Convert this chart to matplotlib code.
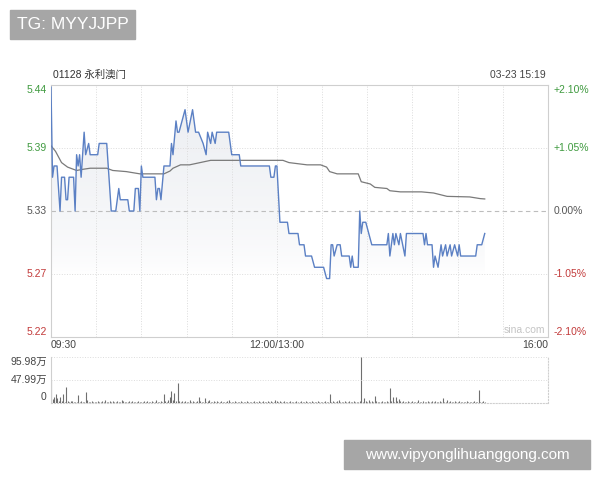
import numpy as np
import matplotlib
matplotlib.use("Agg")
import matplotlib.pyplot as plt
from matplotlib.patches import Rectangle
from matplotlib.colors import LinearSegmentedColormap

plt.rcParams['font.family'] = ['Liberation Sans', 'Noto Sans CJK SC', 'DejaVu Sans']

# ---- data (minutes since 09:30, lunch break removed: 150 = 12:00/13:00) ----
prev_close = 5.33
price_t = [0, 1, 2, 4, 6, 7, 9, 10, 11, 12, 15, 16, 17, 18, 19, 20, 22, 23, 25, 26,
           31, 32, 37, 38, 39, 40, 43, 45, 46, 51, 52, 55, 56, 58, 59, 60, 61, 69, 70, 71,
           72, 73, 75, 79, 80, 81, 83, 84, 85, 89, 91, 94, 96, 98, 101, 103, 104, 106, 107, 109,
           110, 118, 120, 125, 126, 145, 146, 148, 149, 150, 152, 157, 158, 164, 165, 168, 169, 173, 175, 181,
           183, 185, 186, 187, 188, 190, 192, 193, 198, 199, 200, 201, 204, 205, 206, 207, 209, 211, 213, 223,
           224, 225, 226, 227, 228, 229, 231, 232, 235, 236, 247, 248, 249, 250, 253, 254, 255, 257, 258, 259,
           260, 262, 263, 265, 266, 268, 270, 271, 272, 282, 283, 286, 288]
price = [5.44, 5.36, 5.37, 5.37, 5.33, 5.36, 5.36, 5.34, 5.34, 5.36, 5.36, 5.33, 5.38, 5.37, 5.38, 5.36, 5.40, 5.38, 5.39, 5.38,
         5.38, 5.39, 5.39, 5.37, 5.35, 5.33, 5.33, 5.35, 5.34, 5.34, 5.33, 5.33, 5.35, 5.35, 5.33, 5.37, 5.36, 5.36, 5.34, 5.35,
         5.35, 5.34, 5.37, 5.37, 5.39, 5.38, 5.41, 5.40, 5.40, 5.42, 5.40, 5.42, 5.40, 5.40, 5.39, 5.38, 5.40, 5.39, 5.40, 5.39,
         5.40, 5.40, 5.38, 5.38, 5.37, 5.37, 5.36, 5.36, 5.37, 5.37, 5.32, 5.32, 5.31, 5.31, 5.30, 5.30, 5.29, 5.29, 5.28, 5.28,
         5.27, 5.27, 5.30, 5.30, 5.29, 5.30, 5.30, 5.29, 5.29, 5.28, 5.29, 5.28, 5.28, 5.33, 5.31, 5.32, 5.32, 5.31, 5.30, 5.30,
         5.31, 5.29, 5.30, 5.31, 5.30, 5.31, 5.30, 5.31, 5.29, 5.31, 5.31, 5.30, 5.31, 5.30, 5.30, 5.28, 5.29, 5.28, 5.29, 5.30,
         5.29, 5.30, 5.29, 5.30, 5.29, 5.30, 5.29, 5.30, 5.29, 5.29, 5.30, 5.30, 5.31]

avg_t = [0, 3, 5, 7, 11, 17, 21, 26, 37, 41, 50, 59, 75, 79, 81, 86, 92, 99, 106, 125,
         154, 158, 170, 179, 183, 185, 190, 204, 206, 212, 215, 223, 225, 232, 246, 254, 263, 278, 285, 288]
avg_price = [5.388, 5.383, 5.378, 5.373, 5.369, 5.366, 5.367, 5.368, 5.368, 5.366,
             5.365, 5.363, 5.363, 5.3655, 5.368, 5.371, 5.371, 5.373, 5.375, 5.375,
             5.375, 5.373, 5.371, 5.371, 5.369, 5.365, 5.363, 5.363, 5.356, 5.354,
             5.351, 5.350, 5.348, 5.347, 5.347, 5.346, 5.343, 5.3425, 5.341, 5.3407]

# volume per minute, in 万
volume = [47, 8, 12, 18, 9, 4, 11, 3, 17, 2, 33, 3, 2, 4, 3, 1, 2, 2, 16, 2,
          3, 1, 2, 22, 5, 2, 1, 3, 2, 1, 2, 4, 2, 1, 3, 2, 5, 2, 1, 3,
          2, 4, 1, 2, 3, 1, 2, 5, 3, 2, 1, 2, 3, 1, 4, 2, 1, 2, 3, 1,
          2, 1, 3, 2, 4, 1, 2, 3, 1, 2, 5, 1, 2, 3, 1, 17, 3, 2, 5, 12,
          24, 6, 19, 4, 40, 3, 2, 4, 1, 3, 2, 2, 5, 1, 3, 2, 1, 4, 11, 3,
          2, 1, 9, 2, 3, 6, 2, 1, 4, 2, 3, 1, 2, 3, 1, 2, 2, 3, 6, 2,
          1, 2, 3, 1, 2, 1, 3, 2, 1, 2, 3, 1, 2, 1, 2, 3, 1, 2, 4, 1,
          2, 3, 1, 2, 4, 2, 3, 1, 2, 5, 4, 2, 3, 1, 2, 3, 1, 2, 1, 3,
          2, 1, 2, 3, 1, 2, 4, 1, 2, 3, 1, 2, 1, 3, 2, 1, 2, 3, 1, 2,
          2, 1, 4, 2, 1, 17, 2, 3, 1, 2, 3, 6, 2, 1, 2, 3, 1, 2, 4, 2,
          1, 3, 2, 1, 2, 3, 96, 2, 9, 3, 2, 6, 1, 3, 2, 14, 3, 2, 1, 2,
          3, 2, 1, 3, 2, 30, 3, 11, 2, 12, 3, 8, 4, 2, 3, 1, 2, 4, 2, 1,
          3, 2, 1, 2, 5, 1, 2, 3, 1, 2, 4, 2, 1, 3, 2, 4, 1, 2, 3, 1,
          9, 2, 1, 6, 2, 3, 1, 2, 4, 1, 2, 3, 1, 2, 1, 2, 3, 1, 2, 1,
          2, 3, 1, 2, 26, 2, 1, 3, 2]

pct_levels = [0.021, 0.0105, 0.0, -0.0105, -0.021]
price_labels = ['5.44', '5.39', '5.33', '5.27', '5.22']
pct_labels = ['+2.10%', '+1.05%', '0.00%', '-1.05%', '-2.10%']
vol_ticks = [0, 47.99, 95.98]
vol_labels = ['0', '47.99万', '95.98万']

green, red, grey = '#3f9a3f', '#c23a3a', '#555555'
grid_c = '#dcdcdc'

fig = plt.figure(figsize=(6, 4.8), dpi=100)

# ---- price panel ----
ax = fig.add_axes([51 / 600, 1 - 337 / 480, 497 / 600, 252 / 480])
ymin = prev_close * (1 - 0.021)
ymax = prev_close * (1 + 0.021)

# soft grey shading under the price line, fading out towards the bottom
poly = ax.fill_between(price_t, price, ymin, color='none', lw=0)
ys = np.linspace(ymax, ymin, 256)
shade = np.clip((ys - 5.275) / (ymax - 5.275), 0, 1) ** 0.6
cmap = LinearSegmentedColormap.from_list('g', ['#ffffff', '#eceef2'])
img = ax.imshow(shade.reshape(-1, 1), extent=[0, 330, ymin, ymax], aspect='auto',
                cmap=cmap, vmin=0, vmax=1, origin='upper', zorder=1)
img.set_clip_path(poly.get_paths()[0], transform=ax.transData)

ax.plot(avg_t, avg_price, color='#7a7a7a', lw=0.9, zorder=3)
ax.plot(price_t, price, color='#5b80c4', lw=1.0, zorder=4)

ax.set_xlim(0, 330)
ax.set_ylim(ymin, ymax)
levels = [prev_close * (1 + p) for p in pct_levels]
for lv, p in zip(levels, pct_levels):
    if p == 0:
        ax.axhline(lv, color='#bdbdbd', lw=0.8, dashes=(4, 3), zorder=2)
    elif abs(p) < 0.02:
        ax.axhline(lv, color=grid_c, lw=0.7, ls=':', zorder=2)
for m in range(30, 330, 30):
    ax.axvline(m, color=grid_c, lw=0.7, ls=':', zorder=2)

for s in ax.spines.values():
    s.set_color('#cfcfcf')
    s.set_linewidth(0.8)

ax.set_yticks(levels)
ax.set_yticklabels(price_labels)
ax.tick_params(axis='y', length=0, pad=3, labelsize=7.5)
cols = [green, green, grey, red, red]
vas = ['top', 'center', 'center', 'center', 'bottom']
for lab, c, va in zip(ax.get_yticklabels(), cols, vas):
    lab.set_color(c)
    lab.set_verticalalignment(va)

ax.set_xticks([0, 150, 330])
ax.set_xticklabels(['09:30', '12:00/13:00', '16:00'])
ax.tick_params(axis='x', length=0, pad=2, labelsize=7.5, labelcolor='#444444')
xl = ax.get_xticklabels()
xl[0].set_horizontalalignment('left')
xl[2].set_horizontalalignment('right')

ax2 = ax.twinx()
ax2.set_ylim(ymin, ymax)
ax2.set_yticks(levels)
ax2.set_yticklabels(pct_labels)
ax2.tick_params(axis='y', length=0, pad=4, labelsize=7.5)
for lab, c, va in zip(ax2.get_yticklabels(), cols, vas):
    lab.set_color(c)
    lab.set_verticalalignment(va)
for s in ax2.spines.values():
    s.set_visible(False)

ax.text(0.995, 0.008, 'sina.com', transform=ax.transAxes, ha='right', va='bottom',
        fontsize=7.5, color='#c4c4c4')

fig.text(53 / 600, 1 - 75 / 480, '01128 永利澳门', fontsize=7.5, color='#333333', va='center')
fig.text(546 / 600, 1 - 75 / 480, '03-23 15:19', fontsize=7.5, color='#444444',
         va='center', ha='right')

# ---- volume panel ----
axv = fig.add_axes([51 / 600, 1 - 402.5 / 480, 497 / 600, 46 / 480])
axv.vlines(np.arange(len(volume)), 0, volume, color='#6f6f6f', lw=0.8)
axv.set_xlim(0, 330)
axv.set_ylim(0, 95.98)
axv.set_xticks([])
axv.set_yticks(vol_ticks)
axv.set_yticklabels(vol_labels)
axv.tick_params(axis='y', length=0, pad=3, labelsize=7.5, labelcolor='#444444')
for lab, va in zip(axv.get_yticklabels(), ['bottom', 'center', 'top']):
    lab.set_verticalalignment(va)
axv.axhline(47.99, color=grid_c, lw=0.7, ls=':')
axv.axhline(95.98, color=grid_c, lw=0.7, ls=':')
axv.spines['top'].set_visible(False)
axv.spines['left'].set_color('#cfcfcf')
axv.spines['left'].set_linewidth(0.8)
for k in ['bottom', 'right']:
    axv.spines[k].set_color('#cfcfcf')
    axv.spines[k].set_linestyle(':')
    axv.spines[k].set_linewidth(0.8)

# ---- watermark boxes ----
fig.patches.append(Rectangle((10 / 600, 1 - 39 / 480), 125 / 600, 29 / 480,
                             transform=fig.transFigure, color='#a6a6a6', zorder=5))
fig.text(72.5 / 600, 1 - 24.5 / 480, 'TG: MYYJJPP', fontsize=12.5, color='white',
         ha='center', va='center', zorder=6)
fig.patches.append(Rectangle((344 / 600, 1 - 469 / 480), 246 / 600, 29 / 480,
                             transform=fig.transFigure, color='#a6a6a6', zorder=5))
fig.text(467 / 600, 1 - 454.5 / 480, 'www.vipyonglihuanggong.com', fontsize=11,
         color='white', ha='center', va='center', zorder=6)

fig.savefig('out.png', dpi=100)
